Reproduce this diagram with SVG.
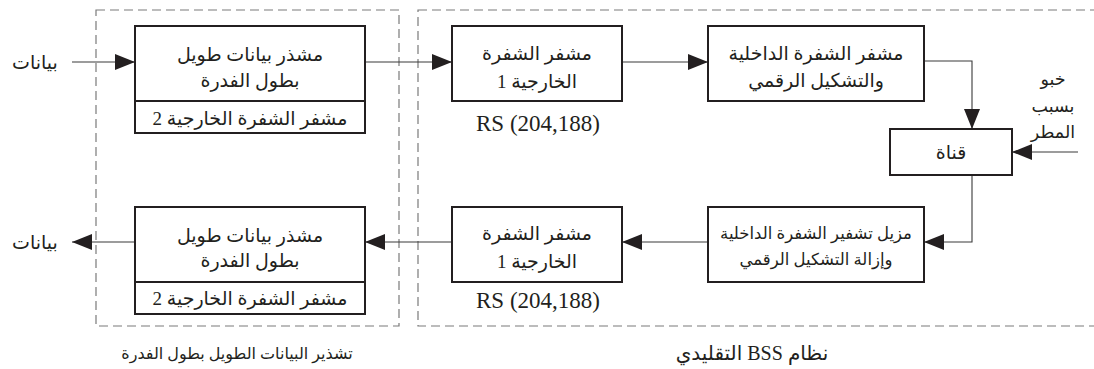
<svg xmlns="http://www.w3.org/2000/svg" width="1094" height="369" viewBox="0 0 1094 369">
<defs>
<style>
.grp{fill:none;stroke:#7a7a7a;stroke-width:1.2;stroke-dasharray:9 5}
.box{fill:#fff;stroke:#231f20;stroke-width:2}
.div{stroke:#231f20;stroke-width:2}
.con{fill:none;stroke:#3a3a3a;stroke-width:1.1}
.ar{font-family:"Liberation Serif","DejaVu Sans",serif;font-size:19px;fill:#231f20;text-anchor:middle;dominant-baseline:central;direction:rtl;unicode-bidi:embed}
.sm{font-size:16.5px}
.rn{font-size:17.5px}
.cap{font-size:16px}
.lt{font-family:"Liberation Serif",serif;font-size:23px;fill:#231f20;text-anchor:middle;dominant-baseline:central}
</style>
<marker id="ah" viewBox="0 0 20 16" refX="20" refY="8" markerWidth="20" markerHeight="16" markerUnits="userSpaceOnUse" orient="auto">
<path d="M0,0 L20,8 L0,16 Z" fill="#231f20"/>
</marker>
</defs>
<g id="groups">
<rect class="grp" x="96" y="10" width="303" height="316"/>
<rect class="grp" x="418" y="10" width="700" height="316"/>
<text class="ar cap" x="237" y="353">تشذير البيانات الطويل بطول الفدرة</text>
<text class="ar" x="752" y="353" style="font-size:20px">نظام BSS التقليدي</text>
</g>
<g id="connectors">
<line class="con" x1="72" y1="62" x2="135" y2="62" marker-end="url(#ah)"/>
<line class="con" x1="365" y1="62" x2="452" y2="62" marker-end="url(#ah)"/>
<line class="con" x1="622" y1="62" x2="708" y2="62" marker-end="url(#ah)"/>
<polyline class="con" points="924,61 972,61 972,129" marker-end="url(#ah)"/>
<line class="con" x1="1078" y1="152" x2="1012" y2="152" marker-end="url(#ah)"/>
<polyline class="con" points="972,175 972,242 924,242" marker-end="url(#ah)"/>
<line class="con" x1="708" y1="242" x2="622" y2="242" marker-end="url(#ah)"/>
<line class="con" x1="452" y1="242" x2="365" y2="242" marker-end="url(#ah)"/>
<line class="con" x1="135" y1="242" x2="72" y2="242" marker-end="url(#ah)"/>
</g>
<g id="data-in"><text class="ar" x="35" y="62">بيانات</text></g>
<g id="data-out"><text class="ar" x="35" y="242">بيانات</text></g>
<g id="rain"><text class="ar rn" x="1053" y="79">خبو</text><text class="ar rn" x="1053" y="106">بسبب</text><text class="ar rn" x="1053" y="132">المطر</text></g>
<g id="interleaver">
<rect class="box" x="135" y="26" width="230" height="107"/>
<line class="div" x1="135" y1="101" x2="365" y2="101"/>
<text class="ar" x="250" y="54">مشذر بيانات طويل</text>
<text class="ar" x="250" y="80">بطول الفدرة</text>
<text class="ar" x="250" y="118">مشفر الشفرة الخارجية 2</text>
</g>
<g id="outer-encoder">
<rect class="box" x="452" y="26" width="170" height="75"/>
<text class="ar" x="537" y="53">مشفر الشفرة</text>
<text class="ar" x="537" y="81">الخارجية 1</text>
<text class="lt" x="538" y="123">RS (204,188)</text>
</g>
<g id="inner-encoder">
<rect class="box" x="708" y="26" width="216" height="75"/>
<text class="ar" x="816" y="53">مشفر الشفرة الداخلية</text>
<text class="ar" x="816" y="80">والتشكيل الرقمي</text>
</g>
<g id="channel">
<rect class="box" x="890" y="129" width="122" height="46"/>
<text class="ar" x="951" y="152">قناة</text>
</g>
<g id="inner-decoder">
<rect class="box" x="708" y="207" width="216" height="75"/>
<text class="ar sm" x="816" y="233">مزيل تشفير الشفرة الداخلية</text>
<text class="ar sm" x="816" y="259">وإزالة التشكيل الرقمي</text>
</g>
<g id="outer-decoder">
<rect class="box" x="452" y="207" width="170" height="75"/>
<text class="ar" x="537" y="233">مشفر الشفرة</text>
<text class="ar" x="537" y="261">الخارجية 1</text>
<text class="lt" x="538" y="300">RS (204,188)</text>
</g>
<g id="deinterleaver">
<rect class="box" x="135" y="207" width="230" height="107"/>
<line class="div" x1="135" y1="282" x2="365" y2="282"/>
<text class="ar" x="250" y="235">مشذر بيانات طويل</text>
<text class="ar" x="250" y="260">بطول الفدرة</text>
<text class="ar" x="250" y="298">مشفر الشفرة الخارجية 2</text>
</g>
</svg>
